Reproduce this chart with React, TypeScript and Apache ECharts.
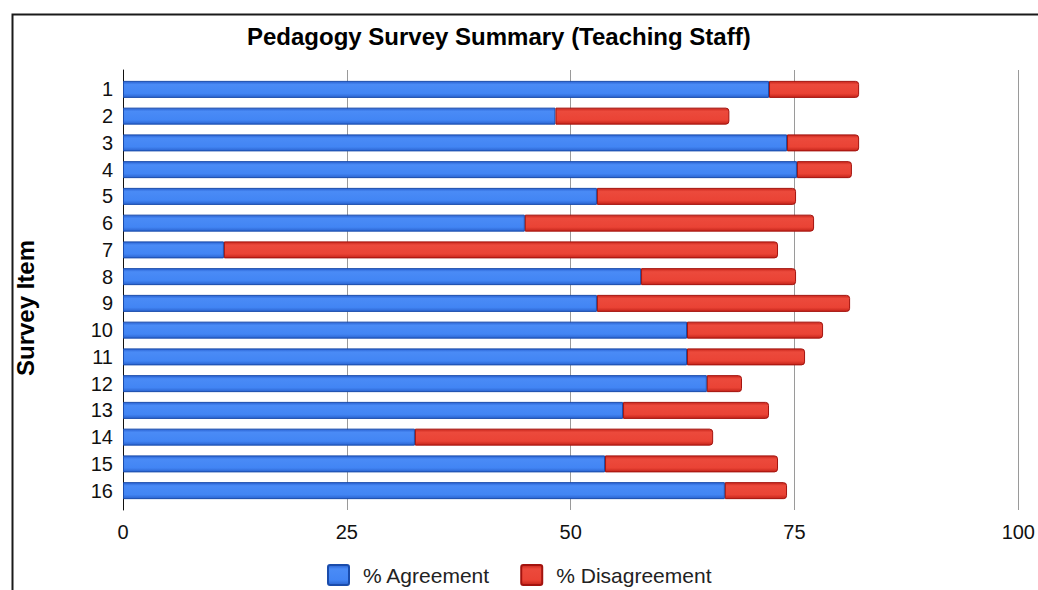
import React, { useEffect, useRef } from "react";
import * as echarts from "echarts";

const categories = ["1", "2", "3", "4", "5", "6", "7", "8", "9", "10", "11", "12", "13", "14", "15", "16"];
const agreement = [71.7, 48.0, 73.7, 74.8, 52.6, 44.6, 11.2, 57.5, 52.6, 62.6, 62.6, 64.8, 55.5, 32.4, 53.5, 66.8];
const disagreement = [10.0, 19.3, 8.0, 6.1, 22.1, 32.1, 61.5, 17.2, 28.1, 15.1, 13.1, 3.9, 16.2, 33.1, 19.2, 6.9];
const xTicks = [0, 25, 50, 75, 100];
const seriesNames = ["% Agreement", "% Disagreement"];
const titleText = "Pedagogy Survey Summary (Teaching Staff)";
const yAxisTitle = "Survey Item";

const FONT = "'Liberation Sans', Arial, sans-serif";

export default function App() {
  const ref = useRef<HTMLDivElement>(null);
  useEffect(() => {
    if (!ref.current) return;
    const chart = echarts.init(ref.current, null, { renderer: "svg" });
    const blueGrad = new echarts.graphic.LinearGradient(0, 0, 0, 1, [
      { offset: 0, color: "#2a62d2" },
      { offset: 0.2, color: "#4a8bf6" },
      { offset: 0.75, color: "#4285f4" },
      { offset: 1, color: "#2b64d0" },
    ]);
    const redGrad = new echarts.graphic.LinearGradient(0, 0, 0, 1, [
      { offset: 0, color: "#c9261c" },
      { offset: 0.2, color: "#ec4a3c" },
      { offset: 0.75, color: "#ea4335" },
      { offset: 1, color: "#c4241a" },
    ]);
    chart.setOption({
      animation: false,
      backgroundColor: "#ffffff",
      textStyle: { fontFamily: FONT },
      title: {
        text: titleText,
        left: 247,
        top: 24,
        padding: 0,
        textStyle: { fontFamily: FONT, fontSize: 24, fontWeight: "bold", color: "#000" },
      },
      legend: {
        bottom: -1,
        left: 322,
        itemWidth: 21,
        itemHeight: 20,
        itemGap: 30,
        icon: "path://M2,0 L19,0 Q21,0 21,2 L21,18 Q21,20 19,20 L2,20 Q0,20 0,18 L0,2 Q0,0 2,0 Z",
        data: seriesNames,
        textStyle: { fontFamily: FONT, fontSize: 21, color: "#222", padding: [0, 0, 0, 9] },
      },
      grid: [
        { left: 123, right: 14, top: 76, bottom: 86, containLabel: false },
        { left: 123, right: 14, top: 70, bottom: 80, containLabel: false },
      ],
      xAxis: [
        {
          gridIndex: 0,
          type: "value",
          min: 0,
          max: 100,
          interval: 25,
          show: false,
          splitLine: { show: false },
        },
        {
          gridIndex: 1,
          type: "value",
          min: 0,
          max: 100,
          interval: 25,
          axisLine: { show: false },
          axisTick: { show: false },
          splitLine: { show: true, lineStyle: { color: "#9a9a9a", width: 1 } },
          axisLabel: {
            margin: 12,
            fontFamily: FONT,
            fontSize: 20,
            color: "#111",
            formatter: (v: number) => (xTicks.includes(v) ? String(v) : ""),
          },
          z: 0,
        },
      ],
      yAxis: [
        {
          gridIndex: 0,
          type: "category",
          inverse: true,
          data: categories,
          axisLine: { show: false },
          axisTick: { show: false },
          axisLabel: { margin: 10, fontFamily: FONT, fontSize: 20, color: "#111" },
        },
        {
          gridIndex: 1,
          type: "value",
          min: 0,
          max: 1,
          axisLine: { show: true, onZero: false, lineStyle: { color: "#111", width: 1 } },
          axisTick: { show: false },
          axisLabel: { show: false },
          splitLine: { show: false },
        },
      ],
      series: [
        {
          name: seriesNames[0],
          type: "bar",
          stack: "total",
          xAxisIndex: 0,
          yAxisIndex: 0,
          barWidth: 17,
          data: agreement,
          itemStyle: { color: blueGrad, borderColor: "#1a4cab", borderWidth: 1 },
          z: 3,
        },
        {
          name: seriesNames[1],
          type: "bar",
          stack: "total",
          xAxisIndex: 0,
          yAxisIndex: 0,
          barWidth: 17,
          data: disagreement,
          itemStyle: {
            color: redGrad,
            borderColor: "#a3130e",
            borderWidth: 1,
            borderRadius: [0, 3, 3, 0],
          },
          z: 3,
        },
      ],
      graphic: [
        {
          type: "rect",
          left: 10,
          top: 12,
          shape: { x: 0, y: 0, width: 1100, height: 700 },
          style: { fill: "none", stroke: "#1a1a1a", lineWidth: 2 },
          silent: true,
          z: 10,
        },
        {
          type: "text",
          x: 25,
          y: 308,
          rotation: Math.PI / 2,
          style: {
            text: yAxisTitle,
            fontFamily: FONT,
            fontSize: 24,
            fontWeight: "bold",
            fill: "#000",
            textAlign: "center",
            textVerticalAlign: "middle",
          },
        },
      ],
    });
    return () => chart.dispose();
  }, []);
  return (
    <div
      ref={ref}
      style={{ position: "fixed", left: 0, top: 0, width: 1038, height: 590 }}
    />
  );
}
